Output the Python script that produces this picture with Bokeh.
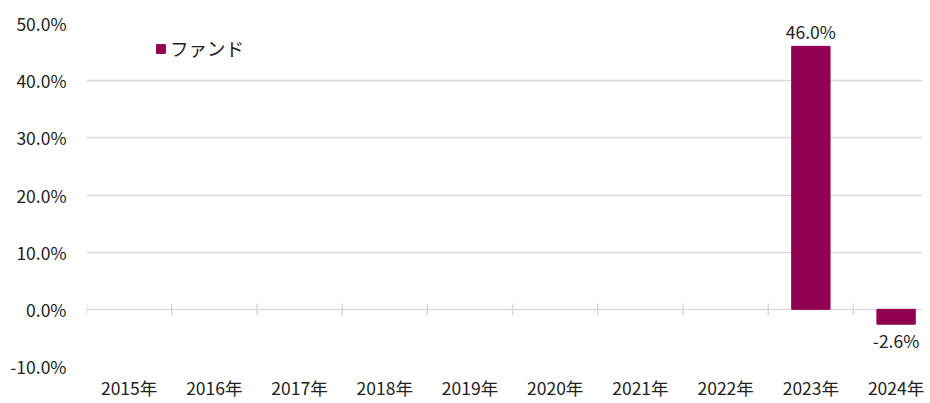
from bokeh.plotting import figure
from bokeh.models import (ColumnDataSource, Range1d, FixedTicker, Legend, LegendItem, LabelSet)
from bokeh.core.properties import value
from bokeh.embed import file_html
from bokeh.resources import INLINE

years = ["2015年", "2016年", "2017年", "2018年", "2019年", "2020年", "2021年", "2022年", "2023年", "2024年"]
fund = [None, None, None, None, None, None, None, None, 46.0, -2.6]
y_ticks = [-10, 0, 10, 20, 30, 40, 50]

FONT = "Noto Sans CJK JP"
FS = "17.5px"
BAR = "#900050"
GRID = "#d9d9d9"
TXT = "#222222"

xs = [i + 0.5 for i in range(len(years))]
vals = [float("nan") if v is None else v for v in fund]
lab = ["" if v is None else f"{v:.1f}%" for v in fund]

src = ColumnDataSource(dict(x=xs, top=vals))

p = figure(width=926, height=403, output_backend="svg", toolbar_location=None,
           x_range=Range1d(0, 9.81), y_range=Range1d(-10, 50),
           min_border_left=86, min_border_right=4, min_border_top=23, min_border_bottom=37)
p.outline_line_color = None
p.background_fill_color = "white"
p.border_fill_color = "white"

p.xgrid.grid_line_color = None
p.ygrid.grid_line_color = GRID
p.ygrid.grid_line_width = 1.5
p.yaxis.ticker = FixedTicker(ticks=y_ticks)
p.yaxis.major_label_overrides = {t: f"{t:.1f}%" for t in y_ticks}
p.yaxis.axis_line_color = None
p.yaxis.major_tick_line_color = None
p.yaxis.minor_tick_line_color = None
p.yaxis.major_tick_out = 0
p.yaxis.major_tick_in = 0
p.yaxis.major_label_standoff = 20
p.yaxis.major_label_text_font = FONT
p.yaxis.major_label_text_font_size = FS
p.yaxis.major_label_text_color = TXT

p.xaxis.ticker = FixedTicker(ticks=xs)
p.xaxis.major_label_overrides = {x: y for x, y in zip(xs, years)}
p.xaxis.axis_line_color = None
p.xaxis.major_tick_line_color = None
p.xaxis.minor_tick_line_color = None
p.xaxis.major_tick_out = 0
p.xaxis.major_tick_in = 0
p.xaxis.major_label_standoff = 8
p.xaxis.major_label_text_font = FONT
p.xaxis.major_label_text_font_size = FS
p.xaxis.major_label_text_color = TXT

# category boundary ticks on the zero line
bounds = list(range(len(years) + 1))
p.segment(x0=bounds, x1=bounds, y0=[-1.0] * len(bounds), y1=[1.0] * len(bounds),
          line_color=GRID, line_width=1.5)

r = p.vbar(x="x", top="top", bottom=0, width=0.45, source=src, fill_color=BAR, line_color=BAR)

pos_idx = [i for i, v in enumerate(fund) if v is not None and v >= 0]
neg_idx = [i for i, v in enumerate(fund) if v is not None and v < 0]
src_pos = ColumnDataSource(dict(x=[xs[i] for i in pos_idx], y=[fund[i] for i in pos_idx],
                                label=[lab[i] for i in pos_idx]))
src_neg = ColumnDataSource(dict(x=[xs[i] for i in neg_idx], y=[fund[i] for i in neg_idx],
                                label=[lab[i] for i in neg_idx]))
p.add_layout(LabelSet(x="x", y="y", text="label", source=src_pos, text_align="center",
                      text_baseline="bottom", y_offset=2, text_font=value(FONT),
                      text_font_size=value(FS), text_color=TXT))
p.add_layout(LabelSet(x="x", y="y", text="label", source=src_neg, text_align="center",
                      text_baseline="top", y_offset=-4, text_font=value(FONT),
                      text_font_size=value(FS), text_color=TXT))

legend = Legend(items=[LegendItem(label="ファンド", renderers=[r])], location=(69, 305),
                border_line_color=None, background_fill_alpha=0, padding=5, margin=0,
                glyph_width=11, glyph_height=11, label_standoff=4,
                label_text_font=FONT, label_text_font_size="18.5px", label_text_color=TXT)
p.add_layout(legend)

open("out.html", "w").write(file_html(p, INLINE))
